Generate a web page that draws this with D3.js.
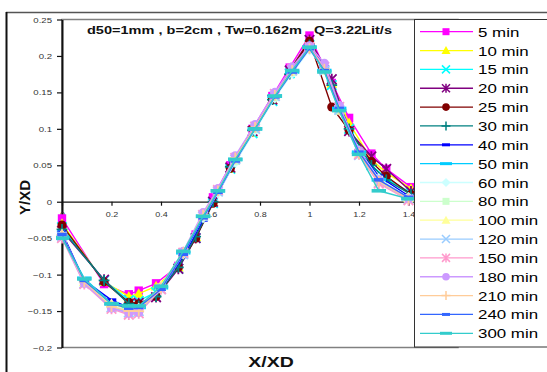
<!DOCTYPE html>
<html>
<head>
<meta charset="utf-8">
<script src="https://cdn.jsdelivr.net/npm/d3@7"></script>
<style>
  body { margin: 0; background: #fff; }
  text { font-family: "Liberation Sans", Arial, sans-serif; }
</style>
</head>
<body>
<div id="chart"></div>
<script>
// Titulo e eixos
const chartTitle = "d50=1mm , b=2cm , Tw=0.162m , Q=3.22Lit/s";
const xTicks = [0, 0.2, 0.4, 0.6, 0.8, 1, 1.2, 1.4];
const yTicks = [-0.2, -0.15, -0.1, -0.05, 0, 0.05, 0.1, 0.15, 0.2, 0.25];

// Series (tempo)
const seriesNames = ["5 min", "10 min", "15 min", "20 min", "25 min", "30 min", "40 min", "50 min", "60 min",
  "80 min", "100 min", "120 min", "150 min", "180 min", "210 min", "240 min", "300 min"];

// posicoes X medidas (primeiros ensaios / ensaios seguintes)
const xEarly = [0, 0.17, 0.27, 0.31, 0.38, 0.47, 0.54, 0.61, 0.68, 0.77, 0.85, 0.92, 1.0, 1.09, 1.16, 1.25, 1.31, 1.41];
const xLate = [0, 0.09, 0.2, 0.27, 0.31, 0.4, 0.49, 0.57, 0.63, 0.7, 0.78, 0.86, 0.93, 1.0, 1.06, 1.12, 1.2, 1.28, 1.4];

const y5 = [-0.023, -0.113, -0.127, -0.122, -0.112, -0.088, -0.045, 0.006, 0.05, 0.1, 0.145, 0.184, 0.228, 0.163, 0.115, 0.066, 0.045, 0.02];
const y10 = [-0.03, -0.11, -0.13, -0.126, -0.116, -0.09, -0.048, 0.0, 0.045, 0.095, 0.14, 0.18, 0.222, 0.162, 0.108, 0.058, 0.04, 0.018];
const y15 = [-0.035, -0.108, -0.135, -0.136, -0.124, -0.092, -0.05, -0.002, 0.045, 0.094, 0.138, 0.176, 0.215, 0.16, 0.1, 0.05, 0.032, 0.012];
const y20 = [-0.04, -0.107, -0.14, -0.139, -0.131, -0.092, -0.05, 0.0, 0.047, 0.097, 0.14, 0.18, 0.222, 0.168, 0.097, 0.062, 0.045, 0.014];
const y25 = [-0.032, -0.11, -0.138, -0.14, -0.13, -0.09, -0.05, -0.002, 0.046, 0.1, 0.14, 0.178, 0.22, 0.13, 0.098, 0.055, 0.035, 0.01];
const y30 = [-0.038, -0.108, -0.14, -0.143, -0.13, -0.09, -0.048, 0.0, 0.048, 0.098, 0.14, 0.175, 0.215, 0.16, 0.1, 0.05, 0.03, 0.01];
const y40 = [-0.042, -0.108, -0.135, -0.145, -0.144, -0.12, -0.075, -0.025, 0.012, 0.055, 0.1, 0.145, 0.18, 0.215, 0.185, 0.13, 0.07, 0.035, 0.008];
const y50 = [-0.049, -0.105, -0.14, -0.145, -0.145, -0.118, -0.07, -0.02, 0.015, 0.058, 0.1, 0.145, 0.178, 0.212, 0.18, 0.128, 0.068, 0.03, 0.005];
const y60 = [-0.046, -0.11, -0.142, -0.148, -0.146, -0.12, -0.072, -0.022, 0.012, 0.054, 0.098, 0.142, 0.176, 0.208, 0.182, 0.13, 0.07, 0.032, 0.006];
const y80 = [-0.047, -0.112, -0.143, -0.15, -0.148, -0.118, -0.07, -0.02, 0.014, 0.056, 0.1, 0.144, 0.178, 0.21, 0.18, 0.125, 0.065, 0.03, 0.004];
const y100 = [-0.044, -0.11, -0.14, -0.148, -0.147, -0.115, -0.068, -0.018, 0.016, 0.06, 0.102, 0.146, 0.18, 0.212, 0.184, 0.128, 0.066, 0.028, 0.005];
const y120 = [-0.048, -0.112, -0.145, -0.152, -0.15, -0.12, -0.072, -0.02, 0.014, 0.058, 0.1, 0.145, 0.18, 0.21, 0.18, 0.126, 0.064, 0.026, 0.003];
const y150 = [-0.05, -0.113, -0.147, -0.155, -0.153, -0.12, -0.07, -0.018, 0.016, 0.06, 0.103, 0.148, 0.182, 0.212, 0.185, 0.13, 0.065, 0.025, 0.002];
const y180 = [-0.048, -0.112, -0.146, -0.153, -0.152, -0.118, -0.068, -0.015, 0.018, 0.063, 0.106, 0.15, 0.185, 0.214, 0.19, 0.132, 0.07, 0.03, 0.004];
const y210 = [-0.046, -0.11, -0.144, -0.15, -0.15, -0.118, -0.07, -0.018, 0.015, 0.06, 0.102, 0.146, 0.18, 0.21, 0.182, 0.126, 0.066, 0.028, 0.004];
const y240 = [-0.045, -0.108, -0.14, -0.146, -0.145, -0.12, -0.072, -0.022, 0.013, 0.056, 0.1, 0.144, 0.178, 0.21, 0.18, 0.128, 0.068, 0.03, 0.006];
const y300 = [-0.05, -0.106, -0.14, -0.143, -0.143, -0.116, -0.068, -0.02, 0.015, 0.058, 0.1, 0.145, 0.18, 0.212, 0.178, 0.125, 0.065, 0.015, 0.004];

const seriesY = [y5, y10, y15, y20, y25, y30, y40, y50, y60, y80, y100, y120, y150, y180, y210, y240, y300];
const seriesX = [xEarly, xEarly, xEarly, xEarly, xEarly, xEarly,
  xLate, xLate, xLate, xLate, xLate, xLate, xLate, xLate, xLate, xLate, xLate];

const seriesColors = ["#FF00FF", "#FFFF00", "#00FFFF", "#800080", "#800000", "#008080", "#0000FF", "#00CCFF", "#CCFFFF",
  "#CCFFCC", "#FFFF99", "#99CCFF", "#FF99CC", "#CC99FF", "#FFCC99", "#3366FF", "#33CCCC"];
const seriesMarkers = ["square", "triangle", "x", "star", "circle", "plus", "shortbar", "longbar", "diamond",
  "square", "triangle", "x", "star", "circle", "plus", "shortbar", "longbar"];

const width = 547, height = 372;
const plot = { left: 62, top: 19.5, right: 458, bottom: 347.5 };
const stretch = 1.3; // texto esticado na horizontal como no original

const svg = d3.select("#chart").append("svg")
  .attr("width", width).attr("height", height)
  .style("display", "block");

svg.append("rect").attr("width", width).attr("height", height).attr("fill", "#fff");

// moldura externa
svg.append("line").attr("x1", 6).attr("x2", width).attr("y1", 12.5).attr("y2", 12.5)
  .attr("stroke", "#555").attr("stroke-width", 1.5);
svg.append("line").attr("x1", 6.5).attr("x2", 6.5).attr("y1", 12).attr("y2", height)
  .attr("stroke", "#111").attr("stroke-width", 2);

const x = d3.scaleLinear().domain([0, 1.6]).range([plot.left, plot.right]);
const y = d3.scaleLinear().domain([-0.2, 0.25]).range([plot.bottom, plot.top]);

// area do grafico
svg.append("rect")
  .attr("x", plot.left).attr("y", plot.top)
  .attr("width", plot.right - plot.left).attr("height", plot.bottom - plot.top)
  .attr("fill", "none").attr("stroke", "#808080").attr("stroke-width", 1.5);

// Eixo Y
const yAxis = svg.append("g")
  .attr("transform", `translate(${plot.left},0)`)
  .call(d3.axisLeft(y).tickValues(yTicks).tickSize(5).tickSizeOuter(0).tickFormat(d => d3.format("")(+d.toFixed(2))));
yAxis.select(".domain").attr("stroke", "#111").attr("stroke-width", 2);
yAxis.selectAll(".tick line").attr("stroke", "#111").attr("stroke-width", 1.2);
yAxis.selectAll("text")
  .attr("x", -10 / 1.2)
  .attr("transform", "scale(1.2,1)")
  .attr("font-size", "8px").attr("fill", "#333");

// Eixo X (cruza em y = 0)
const xAxis = svg.append("g")
  .attr("transform", `translate(0,${y(0)})`)
  .call(d3.axisBottom(x).tickValues(xTicks).tickSize(4).tickSizeOuter(0).tickFormat(d => d === 0 ? "0" : d3.format("")(+d.toFixed(1))));
xAxis.select(".domain").attr("stroke", "#111").attr("stroke-width", 1.2);
xAxis.selectAll(".tick line").attr("stroke", "#111").attr("stroke-width", 1.2);
xAxis.selectAll("text")
  .attr("y", 10)
  .attr("transform", "scale(1.2,1)")
  .attr("font-size", "7.5px").attr("fill", "#333");

// titulo
svg.append("text")
  .attr("x", 87).attr("y", 34)
  .attr("textLength", 305).attr("lengthAdjust", "spacingAndGlyphs")
  .attr("font-size", "11px").attr("font-weight", "bold").attr("fill", "#111")
  .text(chartTitle);

// rotulos dos eixos
svg.append("text")
  .attr("transform", "translate(30,197.5) rotate(-90)")
  .attr("text-anchor", "middle")
  .attr("font-size", "15px").attr("font-weight", "bold").attr("fill", "#111")
  .text("Y/XD");
svg.append("text")
  .attr("transform", `translate(271,367) scale(${stretch},1)`)
  .attr("text-anchor", "middle")
  .attr("font-size", "15px").attr("font-weight", "bold").attr("fill", "#111")
  .text("X/XD");

// marcadores
function drawMarker(g, type, color) {
  if (type === "square") {
    g.append("rect").attr("x", -3.5).attr("y", -3.5).attr("width", 7).attr("height", 7).attr("fill", color);
  } else if (type === "triangle") {
    g.append("path").attr("d", "M0,-4.5L4.5,3.5L-4.5,3.5Z").attr("fill", color);
  } else if (type === "diamond") {
    g.append("path").attr("d", "M0,-4.5L4.5,0L0,4.5L-4.5,0Z").attr("fill", color);
  } else if (type === "circle") {
    g.append("circle").attr("r", 3.8).attr("fill", color);
  } else if (type === "x") {
    g.append("path").attr("d", "M-4,-4L4,4M-4,4L4,-4").attr("stroke", color).attr("stroke-width", 1.5).attr("fill", "none");
  } else if (type === "star") {
    g.append("path").attr("d", "M-4,-4L4,4M-4,4L4,-4M0,-4.5L0,4.5").attr("stroke", color).attr("stroke-width", 1.5).attr("fill", "none");
  } else if (type === "plus") {
    g.append("path").attr("d", "M-4.5,0L4.5,0M0,-4.5L0,4.5").attr("stroke", color).attr("stroke-width", 1.5).attr("fill", "none");
  } else if (type === "shortbar") {
    g.append("rect").attr("x", -4).attr("y", -1.5).attr("width", 8).attr("height", 3).attr("fill", color);
  } else if (type === "longbar") {
    g.append("rect").attr("x", -6).attr("y", -1.5).attr("width", 12).attr("height", 3).attr("fill", color);
  }
}

svg.append("clipPath").attr("id", "plotClip")
  .append("rect").attr("x", plot.left - 6).attr("y", plot.top - 6)
  .attr("width", plot.right - plot.left + 12).attr("height", plot.bottom - plot.top + 12);

const dataG = svg.append("g").attr("clip-path", "url(#plotClip)");
const line = d3.line().x(d => x(d[0])).y(d => y(d[1]));

seriesNames.forEach((name, i) => {
  const pts = seriesX[i].map((xv, j) => [xv, seriesY[i][j]]);
  const g = dataG.append("g");
  g.append("path").datum(pts)
    .attr("d", line).attr("fill", "none")
    .attr("stroke", seriesColors[i]).attr("stroke-width", 1.4);
  g.selectAll("g.pt").data(pts).join("g")
    .attr("class", "pt")
    .attr("transform", d => `translate(${x(d[0])},${y(d[1])}) scale(1.2)`)
    .each(function () { drawMarker(d3.select(this), seriesMarkers[i], seriesColors[i]); });
});

// legenda
const legend = svg.append("g");
legend.append("rect")
  .attr("x", 414.5).attr("y", 19.5).attr("width", 150).attr("height", 327.5)
  .attr("fill", "#fff").attr("stroke", "#333").attr("stroke-width", 1);

seriesNames.forEach((name, i) => {
  const ly = 31.7 + i * 18.85;
  const item = legend.append("g").attr("transform", `translate(0,${ly})`);
  item.append("line").attr("x1", 420).attr("x2", 473).attr("y1", 0).attr("y2", 0)
    .attr("stroke", seriesColors[i]).attr("stroke-width", 1.3);
  drawMarker(item.append("g").attr("transform", "translate(446,0)"), seriesMarkers[i], seriesColors[i]);
  item.append("text")
    .attr("transform", `translate(478,5) scale(${stretch},1)`)
    .attr("font-size", "13px").attr("fill", "#000")
    .text(name);
});
</script>
</body>
</html>
